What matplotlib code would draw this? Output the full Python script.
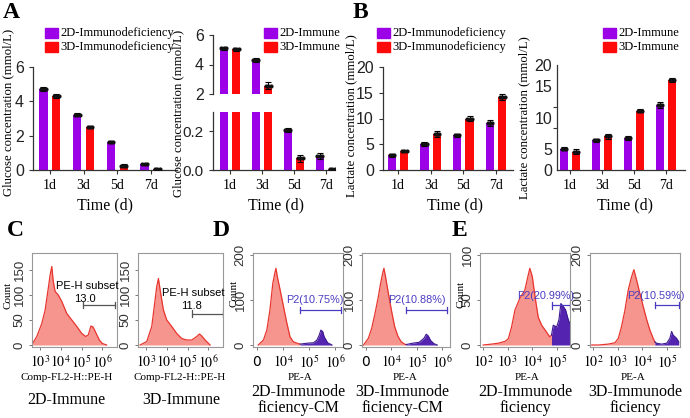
import matplotlib
matplotlib.use('Agg')
import matplotlib.pyplot as plt
from matplotlib.patches import Rectangle
import numpy as np

plt.rcParams['mathtext.fontset'] = 'stix'
SERIF = 'Liberation Serif'
SANS = 'Liberation Sans'

# ---------------- data: bar charts ----------------
days = ['1d', '3d', '5d', '7d']

glu_def_2d = [4.74, 3.23, 1.64, 0.35]
glu_def_3d = [4.31, 2.48, 0.25, 0.08]
glu_def_2d_sd = [0.12, 0.10, 0.06, 0.06]
glu_def_3d_sd = [0.10, 0.06, 0.08, 0.02]

glu_imm_2d = [5.10, 4.30, 0.205, 0.072]
glu_imm_3d = [5.03, 2.56, 0.060, 0.003]
glu_imm_2d_sd = [0.10, 0.12, 0.010, 0.015]
glu_imm_3d_sd = [0.12, 0.25, 0.020, 0.002]

lac_def_2d = [2.9, 5.0, 6.7, 9.2]
lac_def_3d = [3.7, 7.0, 10.0, 14.1]
lac_def_2d_sd = [0.3, 0.4, 0.3, 0.6]
lac_def_3d_sd = [0.2, 0.6, 0.5, 0.6]

lac_imm_2d = [4.05, 5.7, 6.1, 12.4]
lac_imm_3d = [3.5, 6.4, 11.3, 17.2]
lac_imm_2d_sd = [0.3, 0.3, 0.3, 0.5]
lac_imm_3d_sd = [0.5, 0.4, 0.3, 0.4]

# ---------------- data: flow histograms (x in log10 units, y = count) ----------------
c1_x = [2.65, 2.85, 3.09, 3.25, 3.40, 3.49, 3.57, 3.64, 3.73, 3.88, 4.05, 4.29, 4.53,
        4.77, 5.01, 5.20, 5.32, 5.45, 5.55, 5.68, 5.85, 6.00, 6.20]
c1_y = [3, 17, 43, 70, 113, 140, 157, 127, 107, 100, 87, 63, 50, 37, 23, 17, 20, 38, 36,
        25, 10, 3, 0]
c1_gate = [5.07, 6.61, 80]

c2_x = [2.72, 3.04, 3.28, 3.44, 3.52, 3.60, 3.71, 3.84, 4.00, 4.24, 4.48, 4.72, 4.96,
        5.20, 5.44, 5.57, 5.68, 5.84, 6.08]
c2_y = [0, 7, 37, 90, 117, 133, 103, 70, 50, 37, 23, 13, 10, 10, 17, 22, 18, 10, 0]
c2_gate = [5.20, 6.69, 63]

d1_red_x = [3.05, 3.25, 3.38, 3.50, 3.61, 3.70, 3.73, 3.78, 3.89, 4.02, 4.15, 4.27, 4.40, 4.59, 4.66]
d1_red_y = [0, 11, 33, 78, 137, 163, 170, 152, 122, 85, 48, 18, 7, 3, 2]
d1_pur_x = [4.66, 4.92, 5.17, 5.30, 5.39, 5.45, 5.52, 5.58, 5.71, 5.88]
d1_pur_y = [2, 4, 5, 11, 22, 33, 30, 18, 5, 0]
d1_gate = [4.66, 6.22, 78]

d2_red_x = [2.91, 3.10, 3.23, 3.36, 3.49, 3.58, 3.66, 3.71, 3.77, 3.87, 4.00, 4.13, 4.26, 4.39, 4.52, 4.58]
d2_red_y = [0, 15, 37, 70, 107, 137, 159, 170, 152, 119, 78, 41, 19, 7, 2, 1]
d2_pur_x = [4.58, 4.83, 5.09, 5.28, 5.37, 5.45, 5.54, 5.67, 5.80]
d2_pur_y = [1, 4, 6, 15, 24, 20, 10, 3, 0]
d2_gate = [4.58, 6.18, 78]

e1_red_x = [2.01, 2.35, 2.62, 2.89, 3.03, 3.16, 3.30, 3.50, 3.70, 3.84, 3.90, 4.00, 4.11,
            4.24, 4.38, 4.51, 4.71, 4.78]
e1_red_y = [0, 1, 2, 4, 7, 20, 39, 52, 61, 78, 85, 76, 54, 31, 22, 17, 9, 11]
e1_pur_x = [4.78, 4.85, 4.99, 5.08, 5.16, 5.25, 5.35, 5.46, 5.52]
e1_pur_y = [11, 22, 20, 28, 46, 43, 39, 28, 24]
e1_gate = [4.78, 5.52, 44]

e2_red_x = [1.95, 2.22, 2.62, 2.89, 3.03, 3.16, 3.30, 3.43, 3.57, 3.66, 3.77, 3.90, 4.04,
            4.18, 4.31, 4.44, 4.51]
e2_red_y = [0, 0, 2, 5, 15, 41, 78, 122, 152, 167, 144, 115, 85, 56, 33, 15, 7]
e2_pur_x = [4.51, 4.58, 4.78, 4.99, 5.12, 5.19, 5.25, 5.39, 5.48]
e2_pur_y = [7, 4, 2, 4, 15, 30, 22, 15, 7]
e2_gate = [4.51, 5.48, 89]

# ---------------- styling ----------------
PURPLE = '#9B00E6'
RED = '#FF0A0A'
HRED_FILL = '#F6948E'
HRED_EDGE = '#E8352E'
HPUR = '#5423B0'
GATE_BLUE = '#4A3CC0'

W, H = 690, 418
fig = plt.figure(figsize=(6.9, 4.18), dpi=100)


def ax_px(l, t, r, b):
    return fig.add_axes([l / W, 1 - b / H, (r - l) / W, (b - t) / H])


def style_bar_axes(ax, xlim, show_x=True, yfs=11.5):
    for s in ['top', 'right']:
        ax.spines[s].set_visible(False)
    for s in ['left', 'bottom']:
        ax.spines[s].set_color('#333333')
        ax.spines[s].set_linewidth(0.9)
    ax.set_xlim(*xlim)
    ax.tick_params(axis='both', length=3, width=0.8, color='#333333')
    ax.set_xticks(range(len(days)))
    if show_x:
        ax.set_xticklabels(days, fontfamily=SERIF, fontsize=10)
    else:
        ax.spines['bottom'].set_visible(False)
        ax.tick_params(axis='x', length=0, labelbottom=False)
    for lab in ax.get_yticklabels():
        lab.set_fontfamily(SANS)
        lab.set_fontsize(yfs)
        lab.set_color('#222222')


def draw_bars(ax, v2, v3, e2, e3, off=0.19, w=0.25):
    x = np.arange(len(days))
    ax.bar(x - off, v2, w, color=PURPLE, zorder=2)
    ax.bar(x + off, v3, w, color=RED, zorder=2)
    for xs, v, e in [(x - off, v2, e2), (x + off, v3, e3)]:
        ax.errorbar(xs, v, yerr=e, fmt='none', ecolor='black', elinewidth=0.8,
                    capsize=2, capthick=0.8, zorder=3)
        for dx in (-0.07, 0.0, 0.07):
            ax.plot(xs + dx, v, 'o', ms=2.0, color='#111111', zorder=4, clip_on=True)


# ---- A1 ----
a1 = ax_px(33, 67, 177, 170)
draw_bars(a1, glu_def_2d, glu_def_3d, glu_def_2d_sd, glu_def_3d_sd)
a1.set_ylim(0, 6)
a1.set_yticks([0, 2, 4, 6])
style_bar_axes(a1, (-0.5, 3.77))

# ---- A2 (broken axis) ----
a2t = ax_px(213, 35, 335, 94)
draw_bars(a2t, glu_imm_2d, glu_imm_3d, glu_imm_2d_sd, glu_imm_3d_sd, off=0.2)
a2t.set_ylim(2, 6)
a2t.set_yticks([2, 4, 6])
style_bar_axes(a2t, (-0.53, 3.28), show_x=False)

a2b = ax_px(213, 112, 335, 170)
draw_bars(a2b, glu_imm_2d, glu_imm_3d, glu_imm_2d_sd, glu_imm_3d_sd, off=0.2)
a2b.set_ylim(0, 0.3)
a2b.set_yticks([0.0, 0.2])
a2b.set_yticklabels(['0.0', '0.2'])
style_bar_axes(a2b, (-0.53, 3.28), yfs=11)

# ---- B1 ----
b1 = ax_px(383, 67, 513, 170)
draw_bars(b1, lac_def_2d, lac_def_3d, lac_def_2d_sd, lac_def_3d_sd)
b1.set_ylim(0, 20)
b1.set_yticks([0, 5, 10, 15, 20])
style_bar_axes(b1, (-0.46, 3.52))

# ---- B2 ----
b2 = ax_px(557, 65, 685, 170)
draw_bars(b2, lac_imm_2d, lac_imm_3d, lac_imm_2d_sd, lac_imm_3d_sd)
b2.set_ylim(0, 20)
b2.set_yticks([0, 4, 10, 16, 20])
b2.set_yticklabels(['0', '5', '10', '15', '20'])
b2.set_yticks([0, 4, 8, 12, 16, 20], minor=True)
style_bar_axes(b2, (-0.41, 3.6))
b2.tick_params(axis='y', which='major', length=0)
b2.tick_params(axis='y', which='minor', length=3, width=0.8, color='#333333')


# ---------------- histograms ----------------
def hist_panel(box, xr, yr, xp, yp, gate, gate_color, xlim, xticks, xticklabels,
               ylim, yticks):
    ax = ax_px(*box)
    ax.fill_between(xr, 0, yr, color=HRED_FILL, lw=0, zorder=1)
    ax.plot(xr, yr, color=HRED_EDGE, lw=0.9, zorder=2)
    if xp is not None:
        ax.fill_between(xp, 0, yp, color=HPUR, lw=0, zorder=1)
        ax.plot(xp, yp, color='#3C1890', lw=0.8, zorder=2)
    g0, g1, gy = gate
    dy = (ylim[1] - ylim[0]) * 0.035
    ax.plot([g0, g1], [gy, gy], color=gate_color, lw=0.9, zorder=3)
    ax.plot([g0, g0], [gy - dy, gy + dy], color=gate_color, lw=0.9, zorder=3)
    ax.plot([g1, g1], [gy - dy, gy + dy], color=gate_color, lw=0.9, zorder=3)
    ax.set_xlim(*xlim)
    ax.set_ylim(*ylim)
    ax.set_xticks(xticks)
    ax.set_xticklabels(xticklabels, fontsize=10)
    ax.set_yticks(yticks)
    ax.set_yticklabels([str(t) for t in yticks], rotation=90, va='center',
                       fontfamily=SANS, fontsize=9.5, color='#333333')
    for s in ax.spines.values():
        s.set_color('#999999')
        s.set_linewidth(0.8)
    ax.tick_params(length=2.5, width=0.7, color='#777777', pad=2)
    ax.tick_params(axis='x', pad=3)
    return ax


clog_lbl = [r'$10^{3}$', r'$10^{4}$', r'$10^{5}$', r'$10^{6}$']
hist_panel((32, 253, 117, 347), c1_x, c1_y, None, None, c1_gate, '#555555',
           (2.62, 6.7), [3, 4, 5, 6], clog_lbl, (-4, 184), [0, 50, 100, 150])
hist_panel((138, 253, 223, 347), c2_x, c2_y, None, None, c2_gate, '#555555',
           (2.62, 6.7), [3, 4, 5, 6], clog_lbl, (-4, 184), [0, 50, 100, 150])

dlog_lbl = ['0', r'$10^{4}$', r'$10^{5}$', r'$10^{6}$']
hist_panel((253, 253, 343, 347), d1_red_x, d1_red_y, d1_pur_x, d1_pur_y, d1_gate, GATE_BLUE,
           (2.85, 6.3), [3, 4, 5, 6], dlog_lbl, (-4.4, 204), [0, 100, 200])
hist_panel((362, 253, 450, 347), d2_red_x, d2_red_y, d2_pur_x, d2_pur_y, d2_gate, GATE_BLUE,
           (2.85, 6.3), [3, 4, 5, 6], dlog_lbl, (-4.4, 204), [0, 100, 200])

elog_lbl = [r'$10^{2}$', r'$10^{3}$', r'$10^{4}$', r'$10^{5}$']
hist_panel((480, 253, 570, 347), e1_red_x, e1_red_y, e1_pur_x, e1_pur_y, e1_gate, GATE_BLUE,
           (1.88, 5.53), [2, 3, 4, 5], elog_lbl, (-2.2, 102), [0, 50, 100])
hist_panel((590, 253, 680, 347), e2_red_x, e2_red_y, e2_pur_x, e2_pur_y, e2_gate, GATE_BLUE,
           (1.88, 5.53), [2, 3, 4, 5], elog_lbl, (-4.4, 204), [0, 100, 200])

# ---------------- overlay texts / legends ----------------
ov = fig.add_axes([0, 0, 1, 1], zorder=10)
ov.set_xlim(0, W)
ov.set_ylim(H, 0)
ov.axis('off')
ov.patch.set_alpha(0)


def legend(x, labels):
    for i, (lab, col) in enumerate(zip(labels, [PURPLE, RED])):
        y = 28 + i * 14
        ov.add_patch(Rectangle((x, y), 13, 10, color=col))
        ov.text(x + 15, y + 5, lab, fontfamily=SERIF, fontsize=9, va='center', ha='left')


legend(45, ['2D-Immunodeficiency', '3D-Immunodeficiency'])
legend(264, ['2D-Immune', '3D-Immune'])
legend(377, ['2D-Immunodeficiency', '3D-Immunodeficiency'])
legend(603, ['2D-Immune', '3D-Immune'])

for x in (105, 276, 455, 625):
    ov.text(x, 205, 'Time (d)', fontfamily=SERIF, fontsize=11.5, ha='center', va='center')

for x, y, t in [(8, 112, 'Glucose concentration (mmol/L)'),
                (178, 113, 'Glucose concentration (mmol/L)'),
                (351, 116, 'Lactate concentration (mmol/L)'),
                (524, 118, 'Lactate concentration (mmol/L)')]:
    ov.text(x, y, t, fontfamily=SERIF, fontsize=9.2, rotation=90, ha='center', va='center')

for x, y, t in [(11, 13, 'A'), (360, 13, 'B'), (15, 231, 'C'), (221, 231, 'D'), (459, 231, 'E')]:
    ov.text(x, y, t, fontfamily=SERIF, fontsize=17, fontweight='bold', ha='center', va='center')

# Count labels
for x, y in [(8, 295), (234, 293), (461, 294)]:
    ov.text(x, y, 'Count', fontfamily=SERIF, fontsize=8, rotation=90, ha='center', va='center')

# gate labels
ov.text(87, 286, 'PE-H subset', fontfamily=SANS, fontsize=8, ha='center', va='center')
ov.text(85, 299, '13.0', fontfamily=SANS, fontsize=8, ha='center', va='center')
ov.text(193, 293, 'PE-H subset', fontfamily=SANS, fontsize=8, ha='center', va='center')
ov.text(192, 306, '11.8', fontfamily=SANS, fontsize=8, ha='center', va='center')
for x, y, t in [(315, 300, 'P2(10.75%)'), (417, 300, 'P2(10.88%)'),
                (546, 296, 'P2(20.99%)'), (656, 296, 'P2(10.59%)')]:
    ov.text(x, y, t, fontfamily=SANS, fontsize=7.8, color=GATE_BLUE, ha='center', va='center')

# x labels and titles
for x, t in [(67, 'Comp-FL2-H::PE-H'), (180, 'Comp-FL2-H::PE-H'),
             (300, 'PE-A'), (405, 'PE-A'), (527, 'PE-A'), (633, 'PE-A')]:
    ov.text(x, 377, t, fontfamily=SERIF, fontsize=8, ha='center', va='center')

for x, t in [(66, '2D-Immune'), (181, '3D-Immune')]:
    ov.text(x, 400, t, fontfamily=SERIF, fontsize=11.5, ha='center', va='center')
for x, t in [(298, '2D-Immunode\nficiency-CM'), (402, '3D-Immunode\nficiency-CM'),
             (525, '2D-Immunode\nficiency'), (635, '3D-Immunode\nficiency')]:
    ov.text(x, 400, t, fontfamily=SERIF, fontsize=11.5, ha='center', va='center',
            linespacing=0.95)

fig.savefig('out.png', dpi=100)
